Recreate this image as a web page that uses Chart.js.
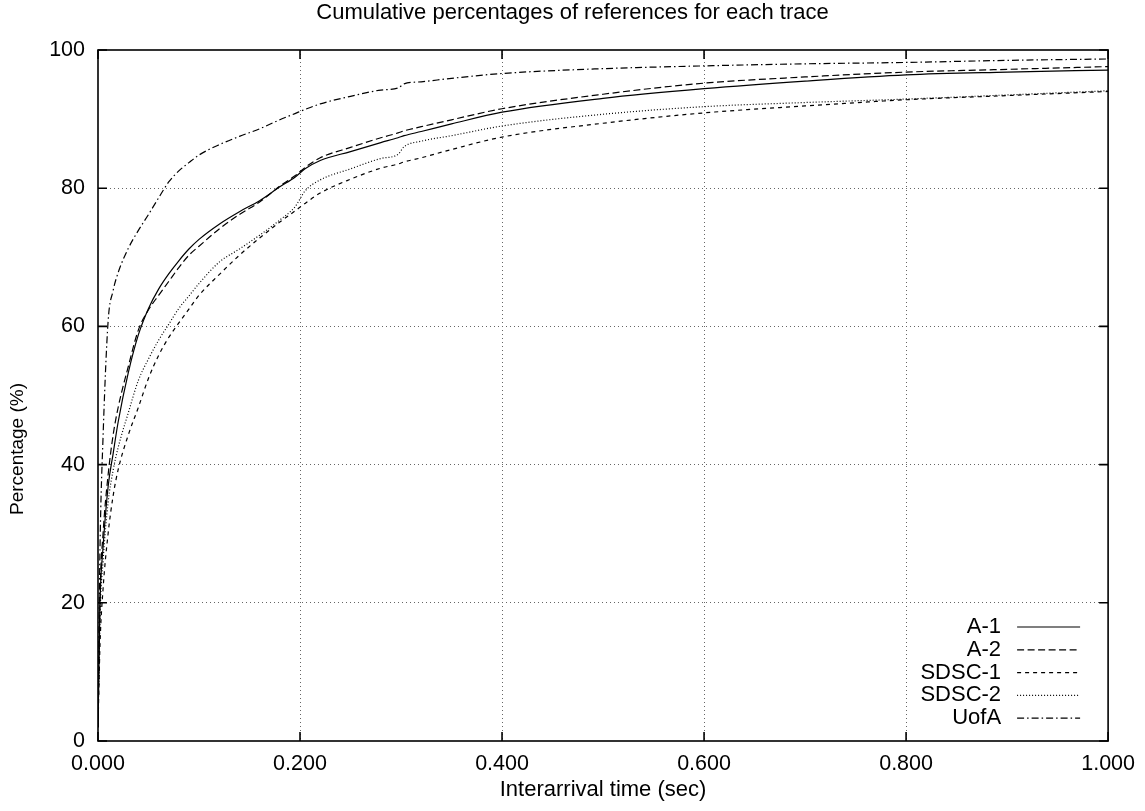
<!DOCTYPE html>
<html>
<head>
<meta charset="utf-8">
<title>Cumulative percentages of references for each trace</title>
<script src="https://cdn.jsdelivr.net/npm/chart.js@4.4.1/dist/chart.umd.min.js"></script>
<style>
  html, body { margin: 0; padding: 0; background: #ffffff; }
  #wrap { width: 1145px; height: 811px; position: relative; }
</style>
</head>
<body>
<div id="wrap"><canvas id="cdf"></canvas></div>
<script>
// Interarrival time (sec) at which each trace's cumulative percentage is sampled
const interarrival = [0, 0.002, 0.005, 0.01, 0.015, 0.02, 0.03, 0.04, 0.05, 0.06, 0.07, 0.08, 0.09, 0.1,
  0.12, 0.14, 0.16, 0.18, 0.195, 0.205, 0.22, 0.25, 0.28, 0.297, 0.303, 0.32, 0.35, 0.4,
  0.5, 0.6, 0.7, 0.8, 0.9, 1.0];

// Cumulative percentage of references, one array per trace
const a1 = [2, 20, 28, 36.8, 41.6, 46.2, 53.3, 58.8, 62.6, 65.4, 67.6, 69.5, 71.2, 72.6,
  74.8, 76.6, 78.2, 80.2, 81.6, 82.8, 84.0, 85.3, 86.6, 87.3, 87.6, 88.2, 89.3, 91.0,
  93.0, 94.4, 95.5, 96.4, 96.8, 97.1];
const a2 = [2, 21, 30, 38.5, 44.3, 48.3, 54.2, 59.5, 62.4, 64.5, 66.5, 68.5, 70.3, 71.6,
  74.1, 76.2, 78.0, 80.3, 81.8, 83.0, 84.4, 85.9, 87.3, 88.0, 88.3, 88.9, 89.9, 91.5,
  93.6, 95.2, 96.1, 96.8, 97.2, 97.6];
const sdsc1 = [2, 14, 22, 30, 35.5, 39.3, 44.3, 48.3, 52.5, 55.8, 58.4, 60.5, 62.5, 64.5,
  67.5, 70.3, 72.8, 75.1, 76.7, 77.8, 79.3, 81.3, 82.9, 83.5, 83.8, 84.4, 85.6, 87.4,
  89.4, 90.9, 91.9, 92.8, 93.4, 94.0];
const sdsc2 = [2, 18, 26, 34.5, 39.2, 42.5, 47.5, 52.2, 55.3, 58, 60.3, 62.6, 64.4, 66.2,
  69.3, 71.2, 73.2, 75.4, 77.3, 79.6, 81.2, 82.8, 84.3, 84.9, 86.0, 86.8, 87.6, 89.0,
  90.7, 91.8, 92.4, 92.9, 93.5, 94.1];
const uofa = [3, 28, 44, 60.7, 65.2, 67.8, 71.3, 73.9, 76.2, 78.6, 80.9, 82.5, 83.7, 84.8,
  86.3, 87.5, 88.6, 89.9, 90.8, 91.4, 92.2, 93.3, 94.2, 94.5, 95.1, 95.4, 95.9, 96.6,
  97.3, 97.7, 98.0, 98.2, 98.5, 98.7];

const traceNames = ['A-1', 'A-2', 'SDSC-1', 'SDSC-2', 'UofA'];
const traceValues = [a1, a2, sdsc1, sdsc2, uofa];
const traceDashes = [[], [7, 3.5], [4, 4], [1, 2], [7, 3, 1.5, 3]];

const xTicks = [0, 0.2, 0.4, 0.6, 0.8, 1.0];
const yTicks = [0, 20, 40, 60, 80, 100];

const chartTitle = 'Cumulative percentages of references for each trace';
const xTitle = 'Interarrival time (sec)';
const yTitle = 'Percentage (%)';

const FONT = "'Liberation Sans', Arial, Helvetica, sans-serif";

const datasets = traceNames.map((name, i) => ({
  label: name,
  data: interarrival.map((x, j) => ({ x: x, y: traceValues[i][j] })),
  borderColor: '#000000',
  borderWidth: 1.2,
  borderDash: traceDashes[i],
  pointRadius: 0,
  fill: false,
  cubicInterpolationMode: 'monotone'
}));

// Solid frame with inward tick marks on all four sides
const framePlugin = {
  id: 'frame',
  afterDatasetsDraw(chart) {
    const { ctx, chartArea: a, scales } = chart;
    ctx.save();
    ctx.strokeStyle = '#000';
    ctx.lineWidth = 1.6;
    ctx.setLineDash([]);
    ctx.strokeRect(a.left, a.top, a.right - a.left, a.bottom - a.top);
    const len = 9;
    ctx.beginPath();
    xTicks.forEach(v => {
      const px = scales.x.getPixelForValue(v);
      ctx.moveTo(px, a.bottom); ctx.lineTo(px, a.bottom - len);
      ctx.moveTo(px, a.top); ctx.lineTo(px, a.top + len);
    });
    yTicks.forEach(v => {
      const py = scales.y.getPixelForValue(v);
      ctx.moveTo(a.left, py); ctx.lineTo(a.left + len, py);
      ctx.moveTo(a.right, py); ctx.lineTo(a.right - len, py);
    });
    ctx.stroke();
    ctx.restore();
  }
};

// Page title centred on the canvas and the rotated y-axis caption
const captionPlugin = {
  id: 'captions',
  afterDraw(chart) {
    const { ctx, width } = chart;
    ctx.save();
    ctx.fillStyle = '#000';
    ctx.textBaseline = 'middle';
    ctx.textAlign = 'center';
    ctx.font = '22px ' + FONT;
    ctx.fillText(chartTitle, width / 2, 13);
    ctx.translate(18, 449);
    ctx.rotate(-Math.PI / 2);
    ctx.font = '19px ' + FONT;
    ctx.fillText(yTitle, 0, 0);
    ctx.restore();
  }
};

// Key in the lower right corner: right-aligned name followed by a line sample
const keyPlugin = {
  id: 'key',
  afterDatasetsDraw(chart) {
    const { ctx, chartArea: a } = chart;
    ctx.save();
    ctx.font = '22px ' + FONT;
    ctx.fillStyle = '#000';
    ctx.textAlign = 'right';
    ctx.textBaseline = 'middle';
    chart.data.datasets.forEach((ds, i) => {
      const y = a.bottom - 114 + i * 22.8;
      ctx.fillText(ds.label, a.right - 107, y);
      ctx.beginPath();
      ctx.setLineDash(ds.borderDash || []);
      ctx.lineWidth = ds.borderWidth;
      ctx.strokeStyle = ds.borderColor;
      ctx.moveTo(a.right - 91, y);
      ctx.lineTo(a.right - 28, y);
      ctx.stroke();
    });
    ctx.restore();
  }
};

const gridColor = (c) => {
  const v = c.tick ? c.tick.value : null;
  return (c.index === 0 || v === 1 || v === 100) ? 'rgba(0,0,0,0)' : '#666666';
};

new Chart(document.getElementById('cdf'), {
  type: 'line',
  data: { datasets: datasets },
  plugins: [framePlugin, keyPlugin, captionPlugin],
  options: {
    responsive: true,
    maintainAspectRatio: false,
    animation: false,
    layout: { padding: { left: 0, right: 33, top: 50, bottom: 0 } },
    plugins: {
      legend: { display: false },
      tooltip: { enabled: false },
      title: { display: false }
    },
    scales: {
      x: {
        type: 'linear',
        min: 0,
        max: 1,
        afterBuildTicks(scale) { scale.ticks = xTicks.map(v => ({ value: v })); },
        afterFit(scale) { scale.height = 70; },
        ticks: {
          color: '#000',
          font: { family: FONT, size: 21.5 },
          padding: 10,
          maxRotation: 0,
          autoSkip: false,
          callback: (v) => Number(v).toFixed(3)
        },
        grid: { color: gridColor, lineWidth: 1, drawTicks: false },
        border: { display: false, dash: [1, 3] },
        title: {
          display: true,
          text: xTitle,
          color: '#000',
          font: { family: FONT, size: 22 },
          padding: { top: 0, bottom: 8 }
        }
      },
      y: {
        min: 0,
        max: 100,
        afterBuildTicks(scale) { scale.ticks = yTicks.map(v => ({ value: v })); },
        afterFit(scale) { scale.width = 98; },
        ticks: {
          color: '#000',
          font: { family: FONT, size: 21.5 },
          padding: 13,
          autoSkip: false
        },
        grid: { color: gridColor, lineWidth: 1, drawTicks: false },
        border: { display: false, dash: [1, 3] }
      }
    }
  }
});
</script>
</body>
</html>
